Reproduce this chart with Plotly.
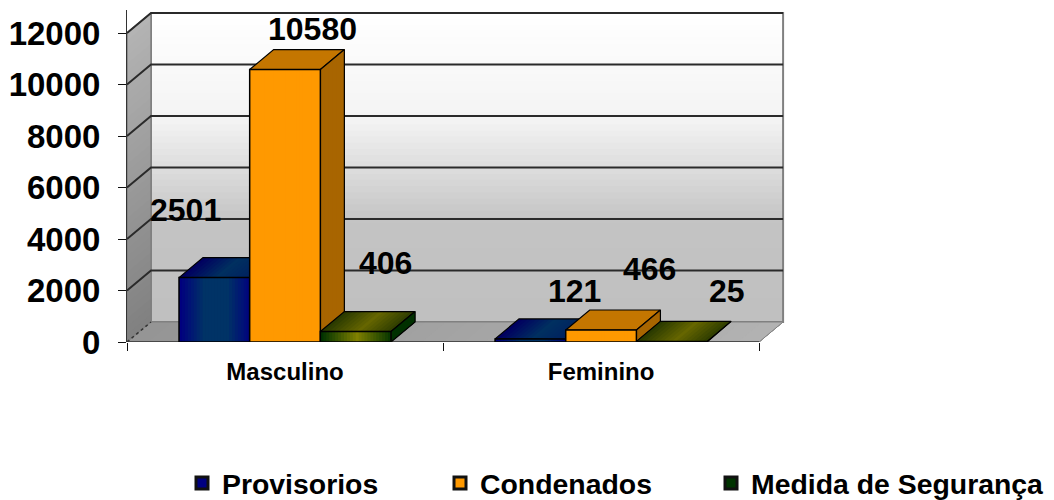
import plotly.graph_objects as go

categories = ["Masculino", "Feminino"]
series_names = ["Provisorios", "Condenados", "Medida de Segurança"]
provisorios = [2501, 121]
condenados = [10580, 466]
medida = [406, 25]
y_ticks = [0, 2000, 4000, 6000, 8000, 10000, 12000]

series = [provisorios, condenados, medida]
FONT = "Liberation Sans, Arial, sans-serif"
INK = "#000000"

# pixel calibration of the axes
PX_CAT = 316.0
PX_VAL = 309.0 / 12000
DX = 24 / PX_CAT
DY = 20 / PX_VAL
XR = 2.93
YR = 332 / PX_VAL
BAR_W = 70.67 / PX_CAT
GROUP_L = 52 / PX_CAT

fig = go.Figure()


def lerp(a, b, t):
    return tuple(a[i] + (b[i] - a[i]) * t for i in range(3))


def hexc(c):
    c = c.lstrip("#")
    return tuple(int(c[i:i + 2], 16) for i in (0, 2, 4))


def poly(xs, ys, color, line=None, lw=0):
    fig.add_trace(go.Scatter(
        x=xs + xs[:1], y=ys + ys[:1], mode="lines", fill="toself", fillcolor=color,
        line=dict(color=line or color, width=lw), showlegend=False, hoverinfo="skip"))


def gradient(p00, p10, p11, p01, stops, n=24, line=None, lw=1.5):
    """Quad with corners p(u,v); colour varies along u, through a list of stops."""
    def pt(u, v):
        a = (p00[0] + (p10[0] - p00[0]) * u, p00[1] + (p10[1] - p00[1]) * u)
        b = (p01[0] + (p11[0] - p01[0]) * u, p01[1] + (p11[1] - p01[1]) * u)
        return a if v == 0 else b
    for i in range(n):
        u = i / n
        seg = u * (len(stops) - 1)
        k = min(int(seg), len(stops) - 2)
        c = lerp(hexc(stops[k]), hexc(stops[k + 1]), seg - k)
        col = "rgb(%d,%d,%d)" % c
        a, b, c2, d = pt(u, 0), pt(1, 0), pt(1, 1), pt(u, 1)
        poly([a[0], b[0], c2[0], d[0]], [a[1], b[1], c2[1], d[1]], col, None, 0)
    if line:
        fig.add_trace(go.Scatter(
            x=[p00[0], p10[0], p11[0], p01[0], p00[0]], y=[p00[1], p10[1], p11[1], p01[1], p00[1]],
            mode="lines", line=dict(color=line, width=lw), showlegend=False, hoverinfo="skip"))


# base bars: carry the data and the legend
legend_w = [213, 226, 300]
for s, (name, vals, col) in enumerate(zip(series_names, series, ["#000080", "#FF9900", "#003300"])):
    fig.add_trace(go.Bar(
        x=[i + GROUP_L + BAR_W * s for i in range(len(categories))], y=vals, name=name,
        width=BAR_W, offset=0, marker=dict(color=col, line=dict(color="#111111", width=3)),
        legendwidth=legend_w[s], hoverinfo="skip"))

top_wall = 12000 + DY
# back wall
gradient((DX, top_wall), (DX, DY), (2 + DX, DY), (2 + DX, top_wall), ["#FFFFFF", "#F4F4F4", "#C4C4C4", "#C0C0C0"], n=50,
         line="#808080", lw=2)
# left wall
gradient((0, 12000), (0, 0), (DX, DY), (DX, top_wall), ["#B4B4B4", "#808080"], n=40, line="#808080", lw=1.5)
# floor
gradient((0, 0), (2, 0), (2 + DX, DY), (DX, DY), ["#959595", "#B4B4B4"], n=30, line="#808080", lw=1)

# grid lines on walls
for v in y_ticks[1:]:
    fig.add_trace(go.Scatter(x=[0, DX, 2 + DX], y=[v, v + DY, v + DY], mode="lines",
                             line=dict(color="#2A2A2A", width=2), showlegend=False, hoverinfo="skip"))
fig.add_trace(go.Scatter(x=[0, DX], y=[0, DY], mode="lines",
                         line=dict(color="#333333", width=1.5, dash="dot"), showlegend=False, hoverinfo="skip"))
# category axis line
fig.add_trace(go.Scatter(x=[0, 2], y=[0, 0], mode="lines", cliponaxis=False,
                         line=dict(color="#333333", width=1.5), showlegend=False, hoverinfo="skip"))

faces = [
    dict(front=["#000080", "#003366", "#003366", "#000080"], top=["#000060", "#003060", "#002060"],
         side=["#00205A", "#001A50"]),
    dict(front=["#FF9900", "#FF9900"], top=["#C47600", "#C47600"], side=["#A86500", "#A86500"]),
    dict(front=["#003300", "#808000", "#003300"], top=["#2A3A00", "#666600", "#2A3A00"], side=["#003000", "#003000"]),
]
for i in range(len(categories)):
    for s, vals in enumerate(series):
        v = vals[i]
        l = i + GROUP_L + BAR_W * s
        r = l + BAR_W
        f = faces[s]
        gradient((l, v), (r, v), (r + DX, v + DY), (l + DX, v + DY), f["top"], n=16, line=INK, lw=1.2)
        gradient((r, 0), (r + DX, DY), (r + DX, v + DY), (r, v), f["side"], n=6, line=INK, lw=1.2)
        gradient((l, 0), (r, 0), (r, v), (l, v), f["front"], n=24, line=INK, lw=1.5)

# data labels
shift = {
    (0, 0): (-29, 68), (0, 1): (27, 41), (0, 2): (30, 69),
    (1, 0): (44, 48), (1, 1): (48, 61), (1, 2): (55, 50),
}
for (i, s), (dx, dy) in shift.items():
    fig.add_annotation(
        x=i + GROUP_L + BAR_W * (s + 0.5), y=series[s][i], text=str(series[s][i]),
        xshift=dx, yshift=dy, showarrow=False, font=dict(family=FONT, size=32, color=INK, weight="bold"))

# the page has an 8 px body margin, so the figure starts at (8, 8)
fig.update_layout(
    width=1054, height=492, paper_bgcolor="white", plot_bgcolor="rgba(0,0,0,0)",
    margin=dict(l=119, r=1054 - 119 - PX_CAT * XR, t=2, b=158, pad=0, autoexpand=False),
    font=dict(family=FONT, color=INK),
    barmode="overlay",
    xaxis=dict(range=[0, XR], tickmode="array", tickvals=[0.5, 1.5], ticktext=categories, ticks="", ticklen=0,
               tickfont=dict(family=FONT, size=24, color=INK, weight="bold"), showgrid=False, zeroline=False,
               showline=False, ticklabelstandoff=13,
               minor=dict(tickmode="array", tickvals=[0, 1, 2], ticks="outside", ticklen=8, tickwidth=1,
                          tickcolor="#111111", showgrid=False)),
    yaxis=dict(range=[0, YR], tickmode="array", tickvals=y_ticks, ticktext=[str(t) for t in y_ticks],
               ticks="outside", ticklen=8, tickwidth=1,
               tickcolor="#111111", showgrid=False, zeroline=False, showline=True, linecolor="#333333", linewidth=1,
               tickfont=dict(family=FONT, size=33, color=INK, weight="bold"), ticklabelstandoff=11),
    legend=dict(orientation="h", x=(201 - 127 - 19) / (PX_CAT * XR), xanchor="left", y=(342 - 458) / 332, yanchor="top",
                bgcolor="rgba(0,0,0,0)", font=dict(family=FONT, size=28.4, color=INK, weight="bold"), itemclick=False),
)
fig.write_html("out.html")
